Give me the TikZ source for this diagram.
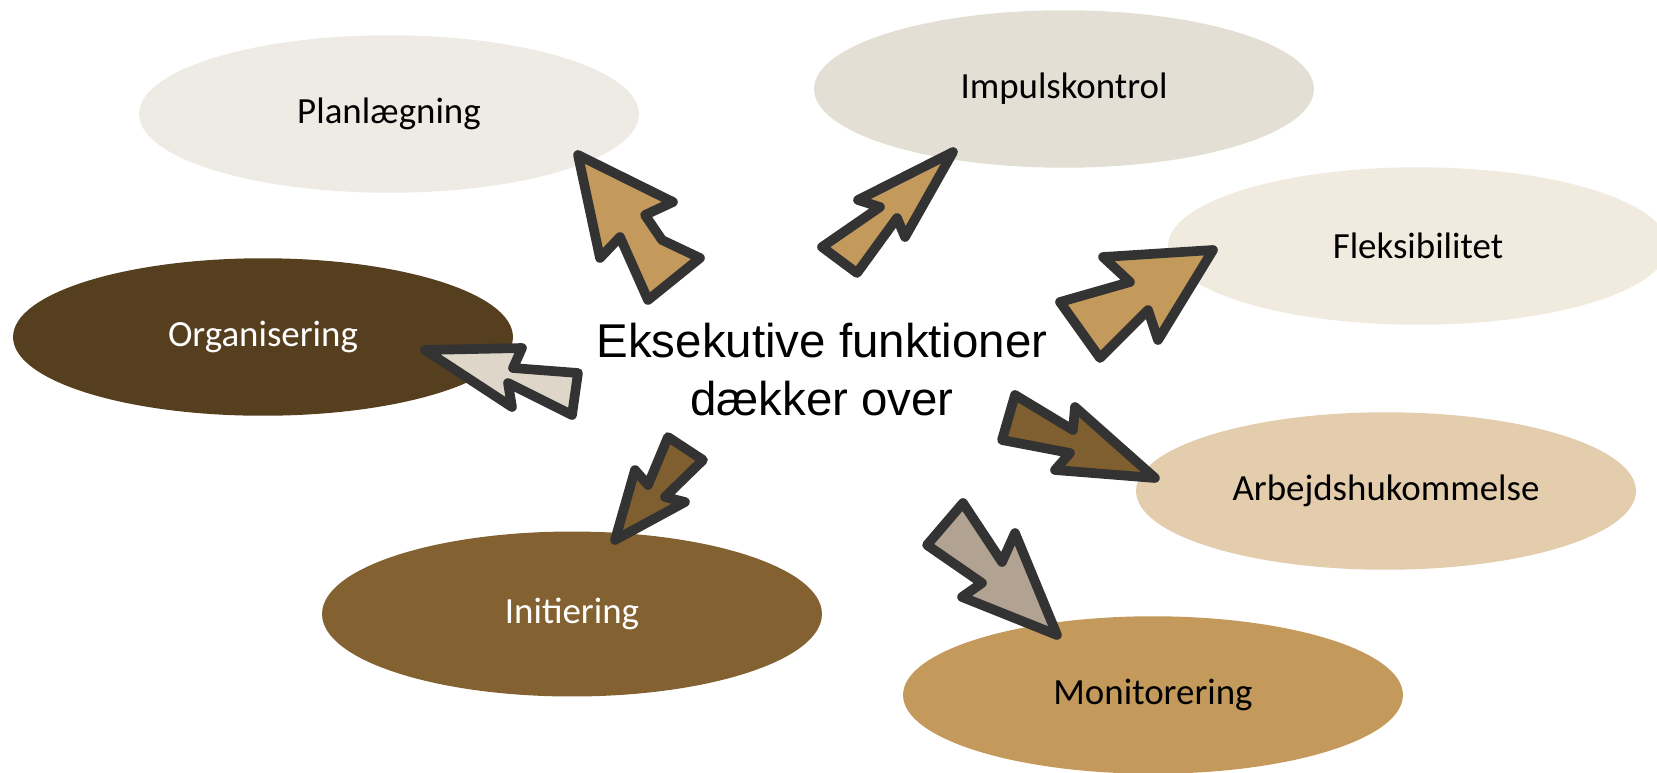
\documentclass[tikz,border=0pt]{standalone}
\usepackage{fontspec}
\setmainfont{Carlito}
\newfontfamily\arialfont{Liberation Sans}
\usetikzlibrary{shapes.geometric}

\definecolor{planfill}{HTML}{EEEBE4}
\definecolor{impfill}{HTML}{E3DFD4}
\definecolor{fleksfill}{HTML}{F1EADF}
\definecolor{orgfill}{HTML}{553F1E}
\definecolor{arbfill}{HTML}{E3CDAD}
\definecolor{initfill}{HTML}{836131}
\definecolor{monfill}{HTML}{C49A5C}
\definecolor{tanarrow}{HTML}{C39A5C}
\definecolor{lightarrow}{HTML}{DDD6C9}
\definecolor{brownarrow}{HTML}{7F5F2F}
\definecolor{greyarrow}{HTML}{B2A292}
\definecolor{inkline}{HTML}{333333}

\tikzset{
  blob/.style={ellipse, minimum width=10cm, minimum height=3.15cm, inner sep=0pt, font=\fontsize{21}{25}\selectfont},
  handarrow/.style={draw=inkline, line width=5.5pt, line join=round, line cap=round},
}

\begin{document}
\begin{tikzpicture}[x=0.02cm, y=-0.02cm]
    \useasboundingbox (0,0) rectangle (1657,772);
    % ellipses
    \node[blob, fill=planfill] (plan) at (389,114) {Planlægning};
    \node[blob, fill=impfill] (impuls) at (1064,89) {Impulskontrol};
    \node[blob, fill=fleksfill] (fleks) at (1418,246) {Fleksibilitet};
    \node[blob, fill=orgfill, text=white] (org) at (263,337) {Organisering};
    \node[blob, fill=arbfill] (arb) at (1386,491) {Arbejdshukommelse};
    \node[blob, fill=initfill, text=white, minimum height=3.3cm] (init) at (572,614) {Initiering};
    \node[blob, fill=monfill] (mon) at (1153,695) {Monitorering};
    % hand drawn arrows
    \draw[handarrow, fill=tanarrow] (578,155) -- (673,202) -- (645,215) -- (662,240) -- (700,258) -- (648,300) -- (620,237) -- (600,258) -- cycle;
    \draw[handarrow, fill=tanarrow] (953,152) -- (905,237) -- (897,218) -- (857,273) -- (822,247) -- (880,207) -- (858,200) -- cycle;
    \draw[handarrow, fill=tanarrow] (1213,250) -- (1158,340) -- (1148,310) -- (1100,358) -- (1060,302) -- (1130,282) -- (1103,257) -- cycle;
    \draw[handarrow, fill=lightarrow] (425,350) -- (522,348) -- (513,368) -- (578,373) -- (572,415) -- (508,383) -- (512,407) -- cycle;
    \draw[handarrow, fill=brownarrow] (615,540) -- (685,502) -- (665,497) -- (703,460) -- (668,437) -- (648,485) -- (635,470) -- cycle;
    \draw[handarrow, fill=brownarrow] (1155,478) -- (1075,407) -- (1073,430) -- (1015,395) -- (1002,440) -- (1070,453) -- (1055,470) -- cycle;
    \draw[handarrow, fill=greyarrow] (1057,635) -- (1015,533) -- (1002,562) -- (963,503) -- (927,545) -- (982,583) -- (962,597) -- cycle;
    % centre text
    \node[font=\arialfont\fontsize{27}{33}\selectfont, align=center] (centre) at (822,370) {Eksekutive funktioner\\dækker over};
\end{tikzpicture}
\end{document}
